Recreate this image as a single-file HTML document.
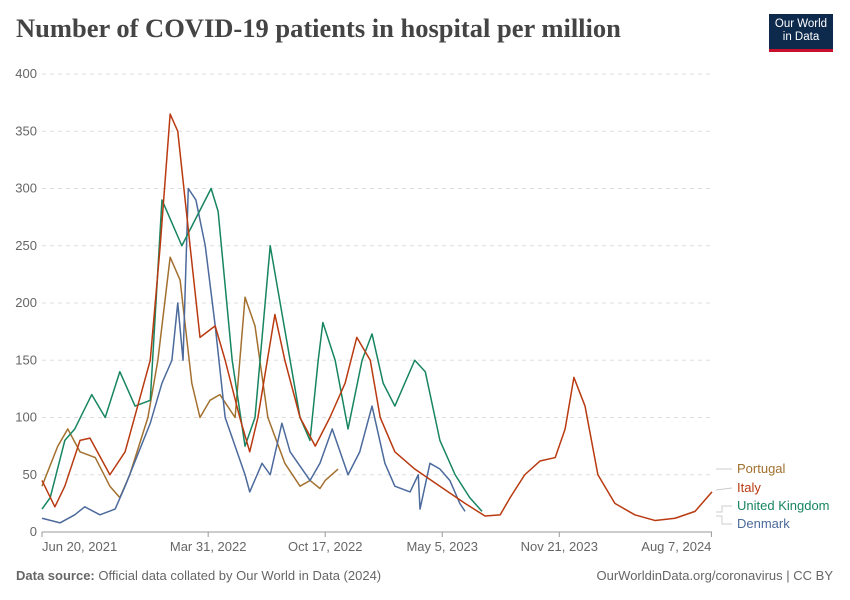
<!DOCTYPE html>
<html><head><meta charset="utf-8">
<style>
body{margin:0;background:#fff;font-family:"Liberation Sans",sans-serif;}
#wrap{position:relative;width:850px;height:600px;}
.title{position:absolute;left:16px;top:13px;font-family:"Liberation Serif",serif;font-size:26.5px;font-weight:bold;color:#444;}
.logo{position:absolute;left:769px;top:14px;width:64px;height:38px;background:#0d2a4d;border-bottom:3px solid #c8102e;color:#fff;font-size:11.5px;text-align:center;line-height:13px;padding-top:4px;box-sizing:border-box;}
.foot{position:absolute;top:568px;font-size:13px;color:#666;}
</style></head><body>
<div id="wrap">
<div class="title">Number of COVID-19 patients in hospital per million</div>
<div class="logo">Our World<br>in Data</div>
<svg id="svg" width="850" height="600" style="position:absolute;left:0;top:0"></svg>
<div class="foot" style="left:16px"><b>Data source:</b> Official data collated by Our World in Data (2024)</div>
<div class="foot" style="right:17px">OurWorldinData.org/coronavirus | CC BY</div>
</div>
<script>
const yTicks=[0,50,100,150,200,250,300,350,400];
const xTickLabels=["Jun 20, 2021","Mar 31, 2022","Oct 17, 2022","May 5, 2023","Nov 21, 2023","Aug 7, 2024"];
const xTickDays=[0,284,484,684,884,1144];
const italyDays=[0,22,39,65,82,116,142,185,202,219,232,253,270,296,313,338,355,369,398,415,441,467,492,518,538,561,578,603,637,680,723,757,783,800,825,851,877,894,909,928,950,979,1013,1048,1082,1116,1145];
const italyVals=[45,22,40,80,82,50,70,150,250,365,350,250,170,180,150,100,70,100,190,150,100,75,100,130,170,150,100,70,55,40,25,14,15,30,50,62,65,90,135,110,50,25,15,10,12,18,35];
const ukDays=[0,14,39,56,85,108,133,159,185,205,222,239,289,301,325,347,364,390,407,441,458,472,480,501,523,547,564,583,603,637,655,680,706,731,752];
const ukVals=[20,30,80,90,120,100,140,110,115,290,270,250,300,280,150,75,100,250,200,100,80,150,183,150,90,150,173,130,110,150,140,80,50,30,18];
const dkDays=[0,31,56,73,99,125,142,185,205,222,232,241,250,263,279,296,313,347,355,376,390,410,424,458,475,496,523,543,564,586,603,629,643,646,663,680,697,714,723];
const dkVals=[12,8,15,22,15,20,40,95,130,150,200,150,300,290,250,180,100,50,35,60,50,95,70,45,60,90,50,70,110,60,40,35,50,20,60,55,45,25,18];
const ptDays=[0,27,44,65,91,116,133,150,181,198,219,236,256,270,287,304,330,347,364,386,415,441,458,475,484,506];
const ptVals=[40,75,90,70,65,40,30,50,100,150,240,220,130,100,115,120,100,205,180,100,60,40,45,38,45,55];
const NS="http://www.w3.org/2000/svg";
const svg=document.getElementById('svg');
const X0=42,X1=712,Y0=532,Y1=74,DMAX=1145;
const xs=d=>X0+d/DMAX*(X1-X0);
const ys=v=>Y0-v/400*(Y0-Y1);
function mk(t,a){const e=document.createElementNS(NS,t);for(const k in a)e.setAttribute(k,a[k]);svg.appendChild(e);return e;}
yTicks.forEach(v=>{
 const l=mk('line',{x1:X0,x2:X1,y1:ys(v),y2:ys(v),stroke:v?'#ddd':'#999','stroke-dasharray':v?'4,4':''});
 
 
 const t=mk('text',{x:37,y:ys(v)+4,'text-anchor':'end','font-size':13,fill:'#666'});
 t.textContent=v;
 
 
});
xTickLabels.forEach((s,i)=>{
 const x=xs(xTickDays[i]);
 const a=i==0?'start':(i==xTickLabels.length-1?'end':'middle');
 const tk=mk('line',{x1:x,x2:x,y1:Y0,y2:Y0+5,stroke:'#999'});
 
 
 const t=mk('text',{x:x,y:551,'text-anchor':a,'font-size':13,fill:'#666'});
 t.textContent=s;
 
 
});
function series(days,vals,color,name){
 const p=mk('polyline',{points:days.map((d,i)=>xs(d)+','+ys(vals[i])).join(' '),fill:'none',stroke:color,'stroke-width':1.5,'stroke-linejoin':'round'});
 
 
}
series(ptDays,ptVals,'#a2702f','line-portugal');
series(dkDays,dkVals,'#4c6a9c','line-denmark');
series(ukDays,ukVals,'#178560','line-united-kingdom');
series(italyDays,italyVals,'#b93a10','line-italy');
const leg=[["Portugal",'#a2702f',469,'M716,469 L732,469'],["Italy",'#b93a10',488,'M716,490 L732,488'],["United Kingdom",'#178560',506,'M716,512 L722,512 L722,506 L732,506'],["Denmark",'#4c6a9c',524,'M716,516 L722,516 L722,524 L732,524']];
leg.forEach(l=>{
 const c=mk('path',{d:l[3],fill:'none',stroke:'#ccc','stroke-width':1});
 
 
 const t=mk('text',{x:737,y:l[2]+4,'font-size':13,fill:l[1]});
 t.textContent=l[0];
 
 
});
</script>
</body></html>
